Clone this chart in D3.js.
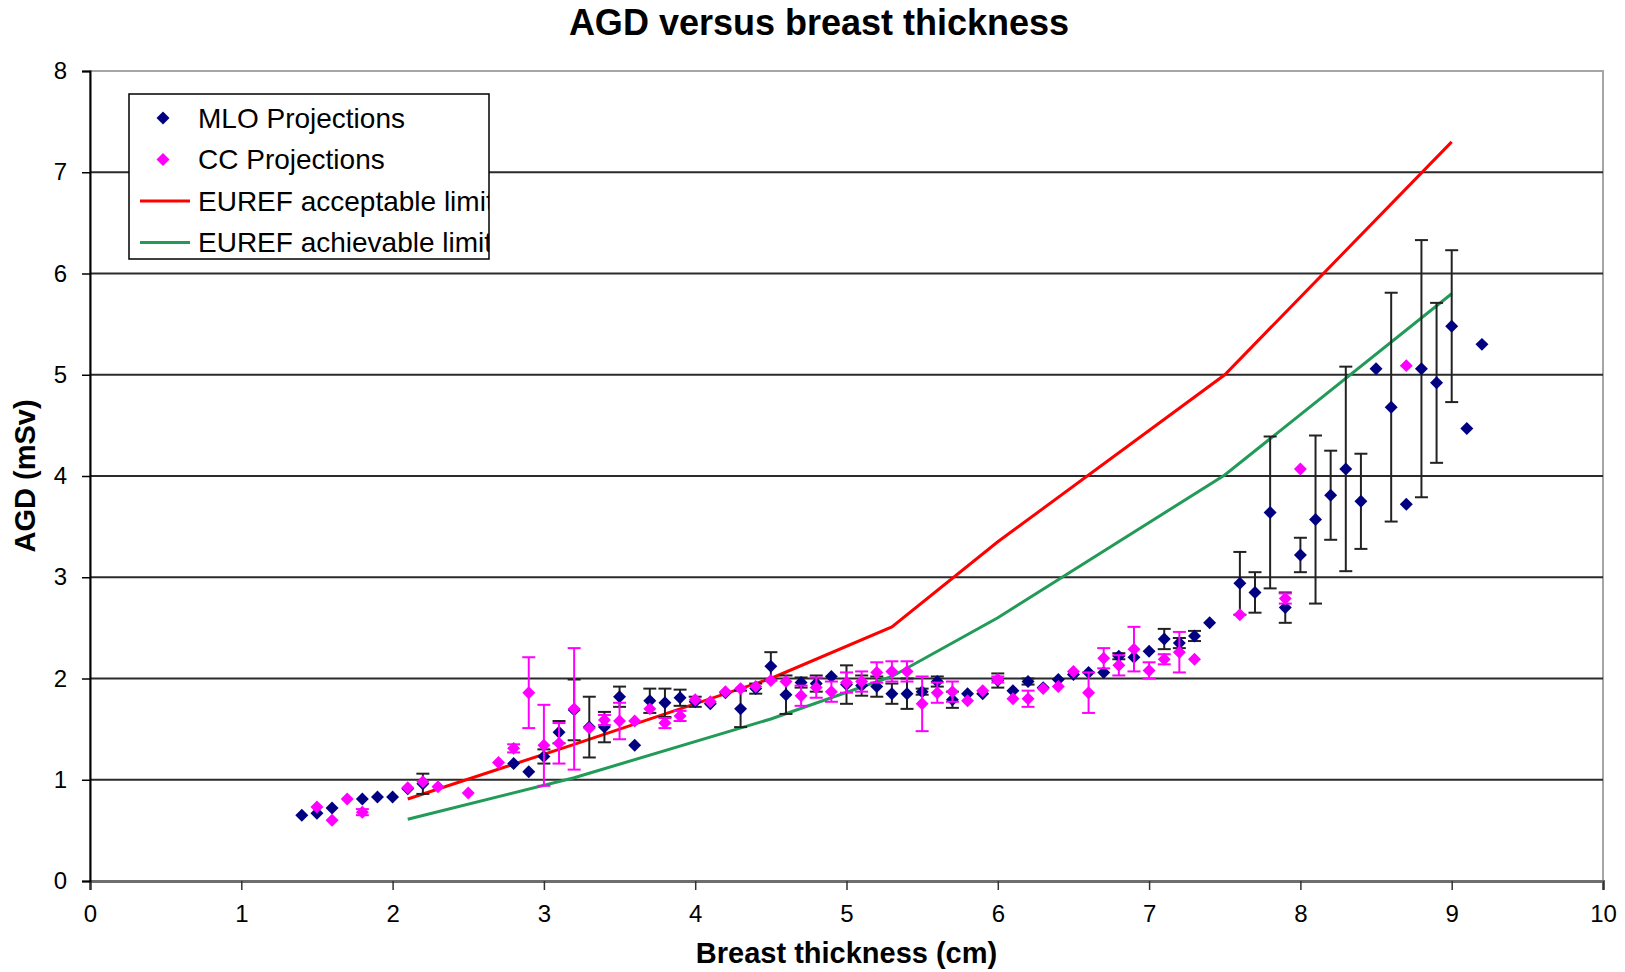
<!DOCTYPE html>
<html>
<head>
<meta charset="utf-8">
<script src="https://cdn.jsdelivr.net/npm/d3@7"></script>
<style>
body { margin: 0; background: #fff; }
text { font-family: Arial, "Liberation Sans", sans-serif; fill: #000; }
</style>
</head>
<body>
<div id="chart"></div>
<script>
// MLO projections (mean AGD and error bar half-width per thickness)
var mloX = [1.4,1.5,1.6,1.8,1.9,2.0,2.1,2.2,
  2.8,2.9,3.0,3.1,3.2,3.3,3.4,3.5,3.6,3.7,3.8,3.9,
  4.0,4.1,4.2,4.3,4.4,4.5,4.6,4.7,4.8,4.9,
  5.0,5.1,5.2,5.3,5.4,5.5,5.6,5.7,5.8,5.9,
  6.0,6.1,6.2,6.3,6.4,6.5,6.6,6.7,6.8,6.9,
  7.0,7.1,7.2,7.3,7.4,
  7.6,7.7,7.8,7.9,8.0,8.1,8.2,8.3,8.4,8.5,8.6,8.7,8.8,8.9,9.0,9.1,9.2];
var mloY = [0.65,0.67,0.72,0.81,0.83,0.83,0.91,0.96,
  1.16,1.08,1.23,1.47,1.69,1.52,1.52,1.82,1.34,1.78,1.76,1.81,
  1.77,1.75,1.86,1.70,1.90,2.12,1.84,1.96,1.95,2.02,
  1.94,1.93,1.92,1.85,1.85,1.87,1.97,1.79,1.85,1.85,
  1.98,1.88,1.97,1.91,1.99,2.04,2.06,2.06,2.22,2.21,
  2.27,2.39,2.35,2.42,2.55,
  2.94,2.85,3.64,2.70,3.22,3.57,3.81,4.07,3.75,5.06,4.68,3.72,5.06,4.92,5.48,4.47,5.30];
var mloErr = [0,0,0,0,0,0,0,0.10,
  0,0,0.07,0.11,0.30,0.30,0.15,0.10,0,0.12,0.14,0.08,
  0.05,0,0,0.18,0.05,0.14,0.19,0.05,0.08,0,
  0.19,0.10,0.10,0.10,0.15,0.03,0.05,0.08,0,0,
  0.07,0,0.03,0,0,0,0,0,0.03,0,
  0,0.10,0.05,0.05,0,
  0.31,0.20,0.75,0.15,0.17,0.83,0.44,1.01,0.47,0,1.13,0,1.27,0.79,0.75,0,0];

// CC projections
var ccX = [1.5,1.6,1.7,1.8,2.1,2.2,2.3,2.5,2.7,2.8,
  2.9,3.0,3.1,3.2,3.3,3.4,3.5,3.6,3.7,3.8,3.9,
  4.0,4.1,4.2,4.3,4.4,4.5,4.6,4.7,4.8,4.9,
  5.0,5.1,5.2,5.3,5.4,5.5,5.6,5.7,5.8,5.9,
  6.0,6.1,6.2,6.3,6.4,6.5,6.6,6.7,6.8,6.9,
  7.0,7.1,7.2,7.3,7.6,7.9,8.0,8.7];
var ccY = [0.73,0.60,0.81,0.68,0.92,0.98,0.93,0.87,1.17,1.31,
  1.86,1.34,1.36,1.70,1.51,1.59,1.58,1.58,1.70,1.56,1.63,
  1.79,1.77,1.87,1.90,1.92,1.98,1.97,1.83,1.91,1.87,
  1.96,1.97,2.06,2.07,2.07,1.75,1.86,1.87,1.78,1.88,
  1.99,1.80,1.80,1.90,1.92,2.07,1.86,2.20,2.13,2.29,
  2.08,2.19,2.26,2.19,2.63,2.79,4.07,5.09];
var ccErr = [0,0,0,0.03,0,0,0,0,0,0.04,
  0.35,0.40,0.20,0.60,0,0.05,0.18,0,0,0.05,0.05,
  0,0,0,0,0,0,0,0.10,0.10,0.10,
  0.10,0.10,0.10,0.10,0.10,0.27,0.10,0.10,0,0,
  0.03,0,0.08,0,0,0,0.20,0.10,0.10,0.22,
  0.08,0.05,0.20,0,0,0.05,0,0];

// EUREF limits
var limitX = [2.1, 3.2, 4.5, 5.3, 6.0, 7.5, 9.0];
var acceptable = [0.81, 1.35, 2.0, 2.51, 3.35, 5.0, 7.3];
var achievable = [0.61, 1.02, 1.6, 2.02, 2.6, 4.01, 5.8];

var xTicks = [0,1,2,3,4,5,6,7,8,9,10];
var yTicks = [0,1,2,3,4,5,6,7,8];
var legendLabels = ["MLO Projections", "CC Projections", "EUREF acceptable limit", "EUREF achievable limit"];

var margin = { top: 71, right: 22, bottom: 91, left: 90 },
    width = 1625 - margin.left - margin.right,
    height = 972 - margin.top - margin.bottom;

var svg = d3.select("#chart").append("svg")
    .attr("width", 1625)
    .attr("height", 972);

var g = svg.append("g")
    .attr("transform", "translate(" + margin.left + "," + margin.top + ")");

var x = d3.scaleLinear().domain([0, 10]).range([0, width]);
var y = d3.scaleLinear().domain([0, 8]).range([height, 0]);

function zip(xs, ys, es) {
  return xs.map(function(v, i) { return { x: v, y: ys[i], e: es ? es[i] : 0 }; });
}
var mlo = zip(mloX, mloY, mloErr),
    cc = zip(ccX, ccY, ccErr),
    acc = zip(limitX, acceptable),
    ach = zip(limitX, achievable);

// plot border (grey, top and right)
g.append("rect")
    .attr("width", width)
    .attr("height", height)
    .attr("fill", "none")
    .attr("stroke", "#a6a6a6")
    .attr("stroke-width", 2);

// gridlines
g.append("g")
    .selectAll("line")
    .data(yTicks.filter(function(d) { return d > 0 && d < 8; }))
    .enter().append("line")
    .attr("x1", 0).attr("x2", width)
    .attr("y1", function(d) { return y(d); })
    .attr("y2", function(d) { return y(d); })
    .attr("stroke", "#2b2b2b")
    .attr("stroke-width", 2);

// axes
var xAxis = g.append("g")
    .attr("transform", "translate(0," + height + ")")
    .call(d3.axisBottom(x).tickValues(xTicks).tickSize(9).tickPadding(15).tickFormat(d3.format("d")));
xAxis.select(".domain").attr("stroke", "#6e6e6e").attr("stroke-width", 3);
xAxis.selectAll(".tick line").attr("stroke", "#333").attr("stroke-width", 1.5);
xAxis.selectAll("text").style("font-size", "24px").attr("fill", "#000");

var yAxis = g.append("g")
    .call(d3.axisLeft(y).tickValues(yTicks).tickSize(8).tickPadding(15).tickFormat(d3.format("d")));
yAxis.select(".domain").attr("stroke", "#000").attr("stroke-width", 2);
yAxis.selectAll(".tick line").attr("stroke", "#000").attr("stroke-width", 1.5);
yAxis.selectAll("text").style("font-size", "24px").attr("fill", "#000");

// EUREF lines
var line = d3.line()
    .x(function(d) { return x(d.x); })
    .y(function(d) { return y(d.y); });

g.append("path").datum(acc)
    .attr("d", line)
    .attr("fill", "none")
    .attr("stroke", "#ff0000")
    .attr("stroke-width", 3);

g.append("path").datum(ach)
    .attr("d", line)
    .attr("fill", "none")
    .attr("stroke", "#229a58")
    .attr("stroke-width", 3);

var diamond = d3.symbol().type(d3.symbolSquare).size(84);

function drawSeries(data, fill, errColor) {
  var s = g.append("g");
  var bars = s.selectAll(".err")
      .data(data.filter(function(d) { return d.e > 0; }))
      .enter().append("g")
      .attr("stroke", errColor)
      .attr("stroke-width", 2);
  bars.append("line")
      .attr("x1", function(d) { return x(d.x); })
      .attr("x2", function(d) { return x(d.x); })
      .attr("y1", function(d) { return y(d.y - d.e); })
      .attr("y2", function(d) { return y(d.y + d.e); });
  bars.append("line")
      .attr("x1", function(d) { return x(d.x) - 6.5; })
      .attr("x2", function(d) { return x(d.x) + 6.5; })
      .attr("y1", function(d) { return y(d.y + d.e); })
      .attr("y2", function(d) { return y(d.y + d.e); });
  bars.append("line")
      .attr("x1", function(d) { return x(d.x) - 6.5; })
      .attr("x2", function(d) { return x(d.x) + 6.5; })
      .attr("y1", function(d) { return y(d.y - d.e); })
      .attr("y2", function(d) { return y(d.y - d.e); });
  s.selectAll(".pt")
      .data(data)
      .enter().append("path")
      .attr("d", diamond)
      .attr("transform", function(d) { return "translate(" + x(d.x) + "," + y(d.y) + ") rotate(45)"; })
      .attr("fill", fill);
}
drawSeries(mlo, "#000080", "#222");
drawSeries(cc, "#ff00ff", "#ff00ff");

// titles
svg.append("text")
    .attr("x", 819).attr("y", 35)
    .attr("text-anchor", "middle")
    .style("font-size", "36px").style("font-weight", "bold")
    .text("AGD versus breast thickness");

svg.append("text")
    .attr("x", margin.left + width / 2).attr("y", 963)
    .attr("text-anchor", "middle")
    .style("font-size", "29px").style("font-weight", "bold")
    .text("Breast thickness (cm)");

svg.append("text")
    .attr("transform", "translate(35," + (margin.top + height / 2) + ") rotate(-90)")
    .attr("text-anchor", "middle")
    .style("font-size", "29px").style("font-weight", "bold")
    .text("AGD (mSv)");

// legend
var legend = svg.append("g").attr("transform", "translate(129,94)");
svg.append("clipPath").attr("id", "legend-clip")
    .append("rect").attr("width", 360).attr("height", 165);

legend.append("rect")
    .attr("width", 360).attr("height", 165)
    .attr("fill", "#fff")
    .attr("stroke", "#000")
    .attr("stroke-width", 1.5);

var items = legend.append("g").attr("clip-path", "url(#legend-clip)")
    .selectAll("g")
    .data(legendLabels)
    .enter().append("g")
    .attr("transform", function(d, i) { return "translate(0," + (24 + i * 41.5) + ")"; });

items.filter(function(d, i) { return i < 2; })
    .append("path")
    .attr("d", diamond)
    .attr("transform", "translate(34,0) rotate(45)")
    .attr("fill", function(d, i) { return i === 0 ? "#000080" : "#ff00ff"; });

items.filter(function(d, i) { return i >= 2; })
    .append("line")
    .attr("x1", 11).attr("x2", 61)
    .attr("stroke", function(d, i) { return i === 0 ? "#ff0000" : "#229a58"; })
    .attr("stroke-width", 3);

items.append("text")
    .attr("x", 69).attr("dy", "0.35em")
    .style("font-size", "28px")
    .text(function(d) { return d; });
</script>
</body>
</html>
